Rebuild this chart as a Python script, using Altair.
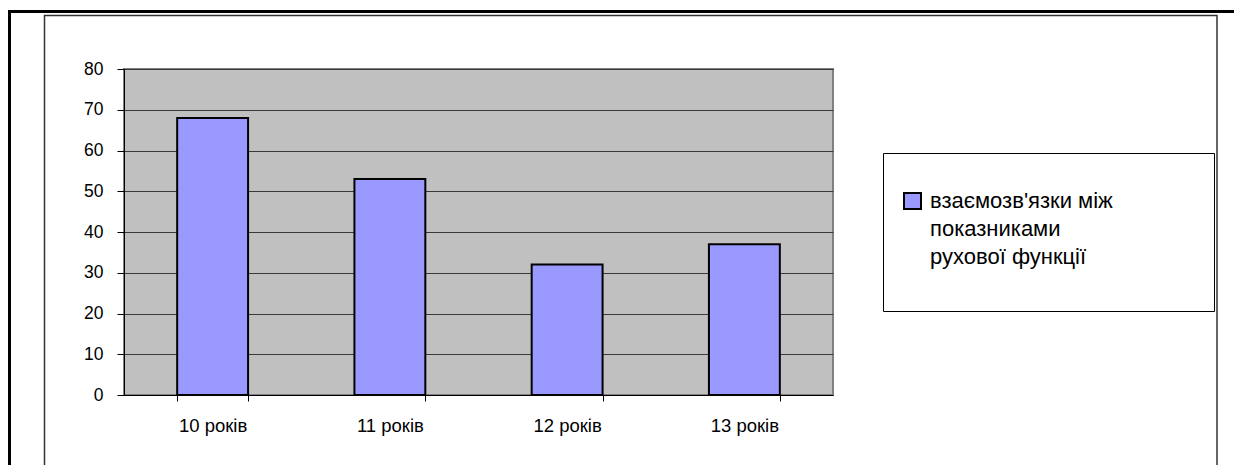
import altair as alt
import pandas as pd

categories = ["10 років", "11 років", "12 років", "13 років"]
values = [68, 53, 32, 37]
series_name = ["взаємозв'язки між", "показниками", "рухової функції"]
y_ticks = [0, 10, 20, 30, 40, 50, 60, 70, 80]

FONT = "Liberation Sans"
BAR = "#9999FF"

df = pd.DataFrame({"category": categories, "value": values})
one = pd.DataFrame({"k": [0]})

bars = alt.Chart(df).mark_bar(
    fill=BAR, stroke="black", strokeWidth=2
).encode(
    x=alt.X(
        "category:N",
        sort=categories,
        scale=alt.Scale(paddingInner=0.6, paddingOuter=0.3),
        axis=alt.Axis(
            title=None, labelAngle=0, tickBand="extent", tickSize=6,
            labelPadding=15, labelFontSize=18.5, labelFont=FONT,
            labelColor="black", domainColor="black", tickColor="black",
            domainWidth=1, tickWidth=1, grid=False,
        ),
    ),
    y=alt.Y(
        "value:Q",
        scale=alt.Scale(domain=[0, 80], nice=False),
        axis=alt.Axis(
            title=None, values=y_ticks, tickSize=7, labelPadding=14,
            labelFontSize=17.5, labelFont=FONT, labelColor="black",
            domainColor="black", tickColor="black", domainWidth=1,
            grid=True, gridColor="#3a3a3a", gridWidth=1,
        ),
    ),
)

outer_frame = alt.Chart(one).mark_rect(
    filled=False, stroke="black", strokeWidth=3
).encode(
    x=alt.value(-114.5), x2=alt.value(1200),
    y=alt.value(-57.5), y2=alt.value(520),
)

inner_frame = alt.Chart(one).mark_rect(
    filled=False, stroke="#333333", strokeWidth=1.5
).encode(
    x=alt.value(-79.5), x2=alt.value(1093),
    y=alt.value(-53.5), y2=alt.value(520),
)

legend_box = alt.Chart(one).mark_rect(
    fill="white", stroke="black", strokeWidth=1
).encode(
    x=alt.value(759.5), x2=alt.value(1090.5),
    y=alt.value(84.5), y2=alt.value(242.5),
)

legend_symbol = alt.Chart(one).mark_rect(
    fill=BAR, stroke="black", strokeWidth=2
).encode(
    x=alt.value(780), x2=alt.value(797),
    y=alt.value(124), y2=alt.value(140),
)

legend_text = alt.Chart(one).mark_text(
    align="left", baseline="alphabetic", font=FONT, fontSize=22,
    lineHeight=28, color="black",
).encode(
    x=alt.value(806), y=alt.value(139), text=alt.value(series_name),
)

chart = alt.layer(
    outer_frame, inner_frame, bars, legend_box, legend_symbol, legend_text
).properties(
    width=709, height=326,
    autosize=alt.AutoSizeParams(type="none"),
    padding={"left": 116, "top": 61, "right": 401, "bottom": 70},
    background="white",
).configure_view(
    fill="#C0C0C0", stroke="#808080", strokeWidth=2
)

chart.save("out.html", embed_options={"renderer": "svg", "actions": False})
